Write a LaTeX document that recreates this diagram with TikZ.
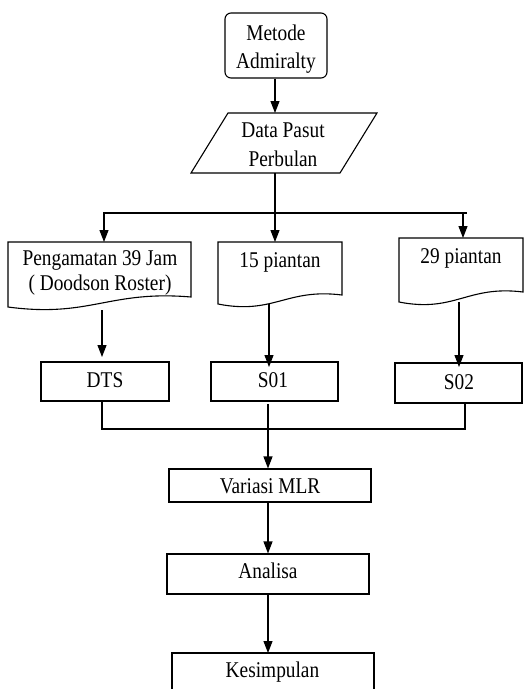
\documentclass[tikz,border=0pt]{standalone}
\usepackage{fontspec}
\setmainfont[FakeStretch=0.86]{Liberation Serif}
\usetikzlibrary{arrows.meta,calc}
\begin{document}
\begin{tikzpicture}[x=1pt,y=-1pt, line width=1.1pt,
  box/.style={draw, rectangle, inner sep=0pt},
  lbl/.style={anchor=base, inner sep=0pt, font=\fontsize{22.5}{28}\selectfont},
  arr/.style={-{Triangle[length=12pt,width=9pt]}}]
\clip (0,0) rectangle (527,689);
% Start
\node[box, rounded corners=6pt, minimum width=102pt, minimum height=65pt] (metode) at (276,45.5) {};
\node[lbl] (metodeA) at (276,40) {Metode};
\node[lbl] (metodeB) at (276,68) {Admiralty};
% Data (parallelogram)
\draw (228,113) -- (377,113) -- (340,173) -- (191,173) -- cycle;
\coordinate (dataN) at (275,113);
\coordinate (dataS) at (275,173);
\node[lbl] (dataA) at (283,137) {Data Pasut};
\node[lbl] (dataB) at (283,166) {Perbulan};
% Documents
\newcommand\docpath[5]{\draw (#1,#3) -- (#2,#3) -- (#2,#5) .. controls ({#1+0.55*(#2-#1)},#5-7) and ({#1+0.45*(#2-#1)},#4+11) .. (#1,#4) -- cycle;}
\docpath{8}{191}{242}{307}{297}
\docpath{218}{342}{242}{304}{295}
\docpath{399}{523}{238}{302}{292}
\node[lbl] (docAa) at (100,265) {Pengamatan 39 Jam};
\node[lbl] (docAb) at (100,290) {( Doodson Roster)};
\node[lbl] (docB) at (280,267) {15 piantan};
\node[lbl] (docC) at (461,263) {29 piantan};
\coordinate (docAN) at (104,242);
\coordinate (docBN) at (275,242);
\coordinate (docCN) at (463,238);
\coordinate (docAS) at (102,310);
\coordinate (docBS) at (269,304);
\coordinate (docCS) at (459,302);
% Boxes
\node[box, minimum width=128pt, minimum height=39pt] (dts) at (105,381.5) {};
\node[box, minimum width=127pt, minimum height=39pt] (s01) at (274.5,381.5) {};
\node[box, minimum width=127pt, minimum height=40pt] (s02) at (458.5,383) {};
\node[lbl] (dtsT) at (105,387) {DTS};
\node[lbl] (s01T) at (273,387) {S01};
\node[lbl] (s02T) at (459,389) {S02};
\node[box, minimum width=202pt, minimum height=33pt] (mlr) at (270,485.5) {};
\node[lbl] (mlrT) at (270,493) {Variasi MLR};
\node[box, minimum width=202pt, minimum height=40pt] (ana) at (268,574) {};
\node[lbl] (anaT) at (268,578) {Analisa};
\draw (172,700) -- (172,653) -- (374,653) -- (374,700);
\coordinate (kesN) at (268,653);
\node[lbl] (kesT) at (272.5,677) {Kesimpulan};
% Connectors
\draw[arr] (metode.south -| dataN) -- (dataN);
\coordinate (split) at (275,213);
\draw (dataS) -- (split);
\draw (103,213) -- (467,213);
\draw[arr] (split) -- (docBN);
\draw[arr] (docAN |- split) -- (docAN);
\draw[arr] (docCN |- split) -- (docCN);
\draw[arr] (docAS) -- (102,357);
\draw[arr] (docBS) -- (269,367);
\draw[arr] (docCS) -- (459,367);
\coordinate (join) at (268,429);
\draw (dts.south -| docAS) -- (102,429) -- (466,429);
\draw (s02.south -| 465,0) -- (465,429);
\draw[arr] (268,404) -- (mlr.north -| join);
\draw[arr] (mlr.south -| join) -- (ana.north -| join);
\draw[arr] (ana.south -| join) -- (kesN);
\end{tikzpicture}
\end{document}
